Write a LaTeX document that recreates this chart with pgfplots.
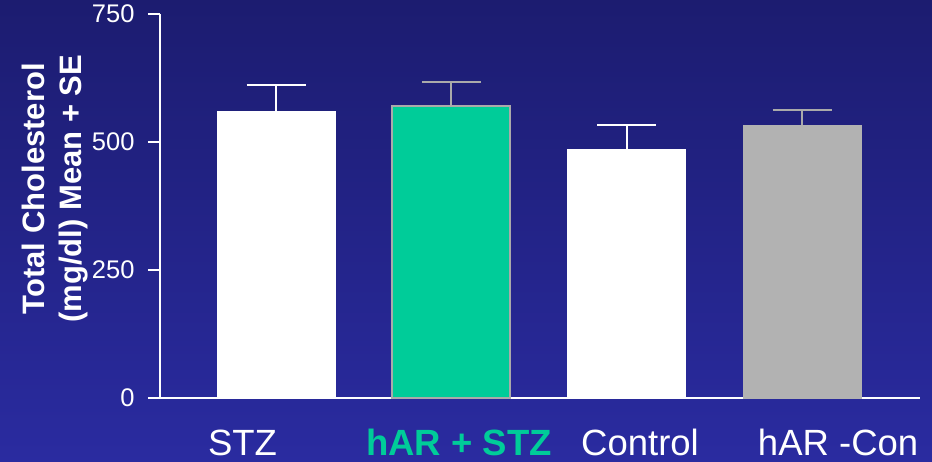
\documentclass[border=0pt]{standalone}
\usepackage{pgfplots}
\pgfplotsset{compat=1.18}
\usepackage{fontspec}
\setmainfont{Liberation Sans}
\definecolor{bgtop}{RGB}{28,28,112}
\definecolor{bgbot}{RGB}{42,43,160}
\definecolor{mint}{RGB}{0,204,153}
\definecolor{lgray}{RGB}{178,178,178}
\definecolor{egray}{RGB}{170,170,170}
\begin{document}
\begin{tikzpicture}
\shade[top color=bgtop, bottom color=bgbot] (0pt,0pt) rectangle (932pt,461pt);
\begin{axis}[
  at={(160pt,63pt)}, anchor=south west,
  scale only axis, width=760pt, height=384pt,
  xmin=-0.6616, xmax=3.673, ymin=0, ymax=750,
  axis x line=bottom, axis y line=left,
  axis line style={-, white, line width=2pt},
  ytick={0,250,500,750},
  tick align=outside, major tick length=12pt,
  ytick style={white, line width=2pt},
  xtick={-0.191,1.044,2.076,3.206},
  xticklabels={STZ,{\bfseries\color{mint}hAR + STZ},Control,hAR -Con},
  xtick style={draw=none},
  xticklabel style={anchor=base, yshift=-45pt, text=white,
    font=\fontsize{36.5}{40}\selectfont},
  yticklabel style={text=white, xshift=-10pt, font=\fontsize{25.5}{30}\selectfont},
  /pgf/number format/assume math mode=true,
  ylabel={Total Cholesterol\\(mg/dl) Mean + SE},
  ylabel style={align=center, text=white,
    font=\bfseries\fontsize{31}{37}\selectfont,
    at={(axis description cs:-0.138,0.545)}, anchor=center},
  ybar,
  bar width=0.673,
  error bars/error mark=|,
]
\addplot[bar shift=0pt, fill=white, draw=white,
  error bars/.cd, y dir=plus, y explicit,
  error bar style={white, line width=2pt},
  error mark options={white, line width=2pt, mark size=29.5pt}]
  coordinates {(0,560) +- (0,51)};
\addplot[bar shift=0pt, fill=mint, draw=egray, line width=2pt,
  error bars/.cd, y dir=plus, y explicit,
  error bar style={egray, line width=2pt},
  error mark options={egray, line width=2pt, mark size=29.5pt}]
  coordinates {(1,571) +- (0,46)};
\addplot[bar shift=0pt, fill=white, draw=white,
  error bars/.cd, y dir=plus, y explicit,
  error bar style={white, line width=2pt},
  error mark options={white, line width=2pt, mark size=29.5pt}]
  coordinates {(2,486) +- (0,47)};
\addplot[bar shift=0pt, fill=lgray, draw=lgray,
  error bars/.cd, y dir=plus, y explicit,
  error bar style={egray, line width=2pt},
  error mark options={egray, line width=2pt, mark size=29.5pt}]
  coordinates {(3,533) +- (0,30)};
\end{axis}
\pgfresetboundingbox
\useasboundingbox (0pt,0pt) rectangle (932pt,461pt);
\end{tikzpicture}
\end{document}
